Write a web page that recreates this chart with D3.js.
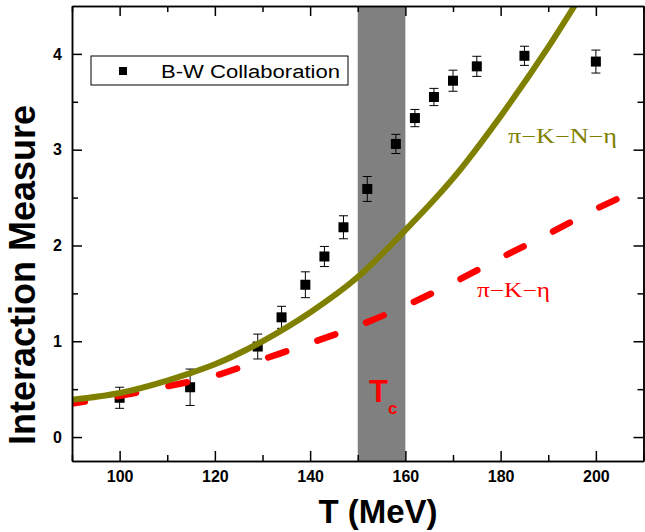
<!DOCTYPE html>
<html>
<head>
<meta charset="utf-8">
<script src="https://cdn.jsdelivr.net/npm/d3@7"></script>
<style>
  body { margin: 0; background: #fff; }
  svg { display: block; font-family: "Liberation Sans", Arial, sans-serif; }
</style>
</head>
<body>
<svg id="chart" width="645" height="532"></svg>
<script>
// B-W lattice points (T in MeV, value, error)
const dataT   = [100, 114.8, 129, 134, 139, 143, 147, 152, 158, 162, 166, 170, 175, 185, 200];
const dataY   = [0.41, 0.52, 0.945, 1.25, 1.59, 1.885, 2.19, 2.59, 3.06, 3.33, 3.55, 3.72, 3.87, 3.98, 3.92];
const dataErr = [0.11, 0.19, 0.13, 0.115, 0.135, 0.105, 0.12, 0.13, 0.10, 0.09, 0.09, 0.11, 0.105, 0.10, 0.12];

// pi-K-N-eta curve (olive)
const pkneT = [90, 100, 110, 115, 120, 130, 140, 150, 160, 170, 180, 190, 197];
const pkneY = [0.39, 0.46, 0.59, 0.67, 0.76, 1.0, 1.30, 1.67, 2.16, 2.70, 3.35, 4.07, 4.62];

// pi-K-eta curve (red dashed)
const pkeT = [90, 100, 110, 120, 130, 140, 150, 160, 170, 180, 190, 200, 206];
const pkeY = [0.35, 0.43, 0.53, 0.64, 0.81, 0.98, 1.16, 1.37, 1.61, 1.87, 2.12, 2.38, 2.52];

// Tc band
const tcBand = [150, 160];

const xMajor = [100, 120, 140, 160, 180, 200];
const xMinor = [90, 110, 130, 150, 170, 190, 210];
const yMajor = [0, 1, 2, 3, 4];
const yMinor = [0.5, 1.5, 2.5, 3.5];

const svg = d3.select("#chart");

const x = d3.scaleLinear().domain([90, 210]).range([72, 643.5]);
const y = d3.scaleLinear().domain([-0.25, 4.5]).range([461, 6]);

// clip for curves
svg.append("defs").append("clipPath").attr("id", "plotClip")
  .append("rect")
  .attr("x", x(90)).attr("y", y(4.5))
  .attr("width", x(210) - x(90)).attr("height", y(-0.25) - y(4.5));

// Tc band
svg.append("rect")
  .attr("x", x(tcBand[0])).attr("y", y(4.5))
  .attr("width", x(tcBand[1]) - x(tcBand[0]))
  .attr("height", y(-0.25) - y(4.5))
  .attr("fill", "#808080");

// data points with error bars
const pts = dataT.map((t, i) => ({t: t, v: dataY[i], e: dataErr[i]}));
const gPts = svg.append("g");
const pt = gPts.selectAll("g").data(pts).enter().append("g");
pt.append("line")
  .attr("x1", d => x(d.t)).attr("x2", d => x(d.t))
  .attr("y1", d => y(d.v + d.e)).attr("y2", d => y(d.v - d.e))
  .attr("stroke", "#000").attr("stroke-width", 1);
pt.append("line")
  .attr("x1", d => x(d.t) - 4.5).attr("x2", d => x(d.t) + 4.5)
  .attr("y1", d => y(d.v + d.e)).attr("y2", d => y(d.v + d.e))
  .attr("stroke", "#000").attr("stroke-width", 1);
pt.append("line")
  .attr("x1", d => x(d.t) - 4.5).attr("x2", d => x(d.t) + 4.5)
  .attr("y1", d => y(d.v - d.e)).attr("y2", d => y(d.v - d.e))
  .attr("stroke", "#000").attr("stroke-width", 1);
pt.append("rect")
  .attr("x", d => x(d.t) - 5).attr("y", d => y(d.v) - 5)
  .attr("width", 10).attr("height", 10)
  .attr("fill", "#000");

// curves
const line = d3.line().x(d => x(d[0])).y(d => y(d[1])).curve(d3.curveMonotoneX);
const gCurves = svg.append("g").attr("clip-path", "url(#plotClip)");

gCurves.append("path")
  .attr("d", line(pkeT.map((t, i) => [t, pkeY[i]])))
  .attr("fill", "none")
  .attr("stroke", "#ff0000")
  .attr("stroke-width", 6.5)
  .attr("stroke-linecap", "round")
  .attr("stroke-dasharray", "19,33")
  .attr("stroke-dashoffset", 6);

gCurves.append("path")
  .attr("d", line(pkneT.map((t, i) => [t, pkneY[i]])))
  .attr("fill", "none")
  .attr("stroke", "#808000")
  .attr("stroke-width", 6);

// axes
const gAx = svg.append("g");
function styleAxis(g) {
  g.select(".domain").attr("stroke", "#000").attr("stroke-width", 1.5);
  g.selectAll(".tick line").attr("stroke", "#000").attr("stroke-width", 1.5);
  g.selectAll("text")
    .attr("font-family", "'Liberation Sans', Arial, sans-serif")
    .attr("font-weight", "bold").attr("font-size", 16).attr("fill", "#000");
}

gAx.append("g").attr("transform", `translate(0,${y(-0.25)})`)
  .call(d3.axisBottom(x).tickValues(xMajor).tickSize(-10).tickSizeOuter(0).tickPadding(10).tickFormat(d3.format("d")))
  .call(styleAxis);
gAx.append("g").attr("transform", `translate(0,${y(-0.25)})`)
  .call(d3.axisBottom(x).tickValues(xMinor).tickSize(-6).tickSizeOuter(0).tickFormat(""))
  .call(styleAxis);
gAx.append("g").attr("transform", `translate(0,${y(4.5)})`)
  .call(d3.axisTop(x).tickValues(xMajor).tickSize(-10).tickSizeOuter(0).tickFormat(""))
  .call(styleAxis);
gAx.append("g").attr("transform", `translate(0,${y(4.5)})`)
  .call(d3.axisTop(x).tickValues(xMinor).tickSize(-6).tickSizeOuter(0).tickFormat(""))
  .call(styleAxis);

gAx.append("g").attr("transform", `translate(${x(90)},0)`)
  .call(d3.axisLeft(y).tickValues(yMajor).tickSize(-10).tickSizeOuter(0).tickPadding(10).tickFormat(d3.format("d")))
  .call(styleAxis);
gAx.append("g").attr("transform", `translate(${x(90)},0)`)
  .call(d3.axisLeft(y).tickValues(yMinor).tickSize(-6).tickSizeOuter(0).tickFormat(""))
  .call(styleAxis);
gAx.append("g").attr("transform", `translate(${x(210)},0)`)
  .call(d3.axisRight(y).tickValues(yMajor).tickSize(-10).tickSizeOuter(0).tickFormat(""))
  .call(styleAxis);
gAx.append("g").attr("transform", `translate(${x(210)},0)`)
  .call(d3.axisRight(y).tickValues(yMinor).tickSize(-6).tickSizeOuter(0).tickFormat(""))
  .call(styleAxis);

// axis titles
svg.append("text")
  .attr("x", 378).attr("y", 523)
  .attr("text-anchor", "middle")
  .attr("font-weight", "bold").attr("font-size", 33)
  .text("T (MeV)");

svg.append("text")
  .attr("transform", "translate(35,275) rotate(-90)")
  .attr("text-anchor", "middle")
  .attr("font-weight", "bold").attr("font-size", 36)
  .text("Interaction Measure");

// legend
const leg = svg.append("g");
leg.append("rect")
  .attr("x", 91).attr("y", 56).attr("width", 257).attr("height", 29)
  .attr("fill", "#fff").attr("stroke", "#000").attr("stroke-width", 1);
leg.append("rect")
  .attr("x", 119).attr("y", 67).attr("width", 8).attr("height", 8).attr("fill", "#000");
leg.append("text")
  .attr("x", 161).attr("y", 78)
  .attr("font-size", 18)
  .attr("textLength", 179).attr("lengthAdjust", "spacingAndGlyphs")
  .text("B-W Collaboration");

// curve labels
svg.append("text")
  .attr("x", 508).attr("y", 143)
  .attr("font-family", "'Liberation Serif', 'Times New Roman', serif")
  .attr("font-size", 20).attr("fill", "#808000")
  .attr("textLength", 109).attr("lengthAdjust", "spacingAndGlyphs")
  .text("π−K−N−η");

svg.append("text")
  .attr("x", 477).attr("y", 297)
  .attr("font-family", "'Liberation Serif', 'Times New Roman', serif")
  .attr("font-size", 20).attr("fill", "#ff0000")
  .attr("textLength", 73).attr("lengthAdjust", "spacingAndGlyphs")
  .text("π−K−η");

// Tc label
const tc = svg.append("text")
  .attr("x", 369).attr("y", 402)
  .attr("font-weight", "bold").attr("fill", "#ff0000");
tc.append("tspan").attr("font-size", 31).text("T");
tc.append("tspan").attr("font-size", 17).attr("dx", 0).attr("dy", 12).text("c");
</script>
</body>
</html>
